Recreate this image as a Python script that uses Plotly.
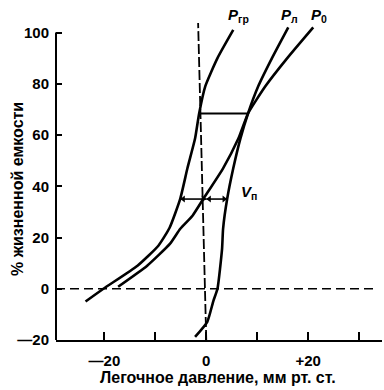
import plotly.graph_objects as go

# ---- data (pressure in mm Hg, volume in % VC) ----
p_gr_x = [-23.7, -20.2, -13.5, -9.4, -7.2, -5.1, -3.7, -2.2, -1.4, -0.2, 2.2, 5.3]
p_gr_y = [-5, 0, 9, 16.8, 23.8, 35.2, 47, 58.6, 68.4, 79, 90, 101]

p_0_x = [-17.3, -11.6, -7.1, -5.1, -2.7, -0.6, 3.3, 6.3, 8.2, 11.6, 15.9, 21.0]
p_0_y = [0.8, 9, 17.6, 23.4, 28.5, 35, 47, 58.6, 68.4, 79, 90, 102]

p_l_x = [-2.2, 0.2, 1.4, 2.2, 3.1, 3.3, 4.1, 5.3, 6.7, 8.2, 10.2, 12.9, 16.1]
p_l_y = [-18.8, -12.9, -4.7, 0, 15.6, 23.4, 35, 47, 58.6, 68.4, 79, 90, 102]

x_tickvals = [-20, 0, 20]
x_ticktext = ["—20", "0", "+20"]
x_minor_tickvals = [-10, 10, 30]
y_tickvals = [-20, 0, 20, 40, 60, 80, 100]
y_ticktext = ["—20", "0", "20", "40", "60", "80", "100"]

x_title = "Легочное давление, мм рт. ст."
y_title = "% жизненной емкости"

# reference constructions
vert_dash_x = [0, -1.6]
vert_dash_y = [-20, 103.7]
hline_y = 68.4
hline_x = [-1.4, 8.2]
vp_y = 35
vp_x = [-5.1, 0, 4.1]

FONT = "Liberation Sans, Arial, sans-serif"

fig = go.Figure()
for xs, ys in [(p_gr_x, p_gr_y), (p_0_x, p_0_y), (p_l_x, p_l_y)]:
    fig.add_trace(go.Scatter(x=xs, y=ys, mode="lines",
                             line=dict(color="black", width=2.6, shape="spline", smoothing=0.5),
                             showlegend=False, hoverinfo="skip"))

# vertical dashed reference line
fig.add_trace(go.Scatter(x=vert_dash_x, y=vert_dash_y, mode="lines",
                         line=dict(color="black", width=1.8, dash="10px,3px"),
                         showlegend=False, hoverinfo="skip"))
# horizontal dashed zero line
fig.add_shape(type="line", xref="paper", yref="y", x0=0, x1=0.985, y0=0, y1=0,
              line=dict(color="black", width=1.6, dash="9px,5px"))
# y axis line (only -20..100)
fig.add_shape(type="line", xref="paper", yref="y", x0=0, x1=0, y0=-20, y1=100,
              line=dict(color="black", width=2))
# horizontal line at ~68%
fig.add_shape(type="line", xref="x", yref="y", x0=hline_x[0], x1=hline_x[1], y0=hline_y, y1=hline_y,
              line=dict(color="black", width=2))

# double arrows for V_п (two segments, arrowheads at both ends)
for a, b in [(vp_x[0], vp_x[1]), (vp_x[1], vp_x[2])]:
    fig.add_trace(go.Scatter(x=[a, b], y=[vp_y, vp_y], mode="lines",
                             line=dict(color="black", width=1.6),
                             showlegend=False, hoverinfo="skip"))
    fig.add_trace(go.Scatter(x=[a + 0.6, b - 0.6], y=[vp_y, vp_y], mode="markers",
                             marker=dict(symbol=["triangle-left", "triangle-right"], size=6, color="black"),
                             showlegend=False, hoverinfo="skip"))

labels = [("гр", 3.9, 106.8), ("л", 14.3, 106.8), ("0", 20.2, 106.8)]
for sub, lx, ly in labels:
    fig.add_annotation(x=lx, y=ly, xref="x", yref="y", xanchor="left", yanchor="middle",
                       text="<b><i>P</i></b><sub>" + sub + "</sub>", showarrow=False,
                       font=dict(family=FONT, size=15, color="black", weight="bold"))
fig.add_annotation(x=6.4, y=37.5, xref="x", yref="y", xanchor="left", yanchor="middle",
                   text="<b><i>V</i></b><sub>п</sub>", showarrow=False,
                   font=dict(family=FONT, size=15, color="black", weight="bold"))

# axis titles
fig.add_annotation(x=0.497, y=-0.114, xref="paper", yref="paper", text=x_title, showarrow=False,
                   xanchor="center", yanchor="middle",
                   font=dict(family=FONT, size=16, color="black", weight="bold"))
fig.add_annotation(x=-0.12, y=0.46, xref="paper", yref="paper", text=y_title, showarrow=False,
                   textangle=-90, xanchor="center", yanchor="middle",
                   font=dict(family=FONT, size=16, color="black", weight="bold"))

fig.update_layout(
    width=384, height=390,
    margin=dict(l=56, r=2, t=12, b=50),
    paper_bgcolor="white", plot_bgcolor="white",
    showlegend=False,
    xaxis=dict(range=[-29.5, 34.5], showgrid=False, zeroline=False, showline=True, linecolor="black",
               linewidth=2, ticks="inside", ticklen=8, tickwidth=2, tickcolor="black",
               tickvals=x_tickvals, ticktext=x_ticktext, ticklabelstandoff=6,
               minor=dict(tickvals=x_minor_tickvals, ticks="inside", ticklen=8, tickwidth=2,
                          tickcolor="black", showgrid=False),
               tickfont=dict(family=FONT, size=15, color="black", weight="bold")),
    yaxis=dict(range=[-20, 108], showgrid=False, zeroline=False, showline=False,
               ticks="inside", ticklen=6, tickwidth=2, tickcolor="black",
               tickvals=y_tickvals, ticktext=y_ticktext, ticklabelstandoff=6,
               tickfont=dict(family=FONT, size=15, color="black", weight="bold")),
)

# remove the default page margin so the 384x390 figure fills the window exactly
fig.write_html("out.html", config={"displayModeBar": False, "staticPlot": True},
               post_script="document.body.style.margin='0';document.body.style.overflow='hidden';")
